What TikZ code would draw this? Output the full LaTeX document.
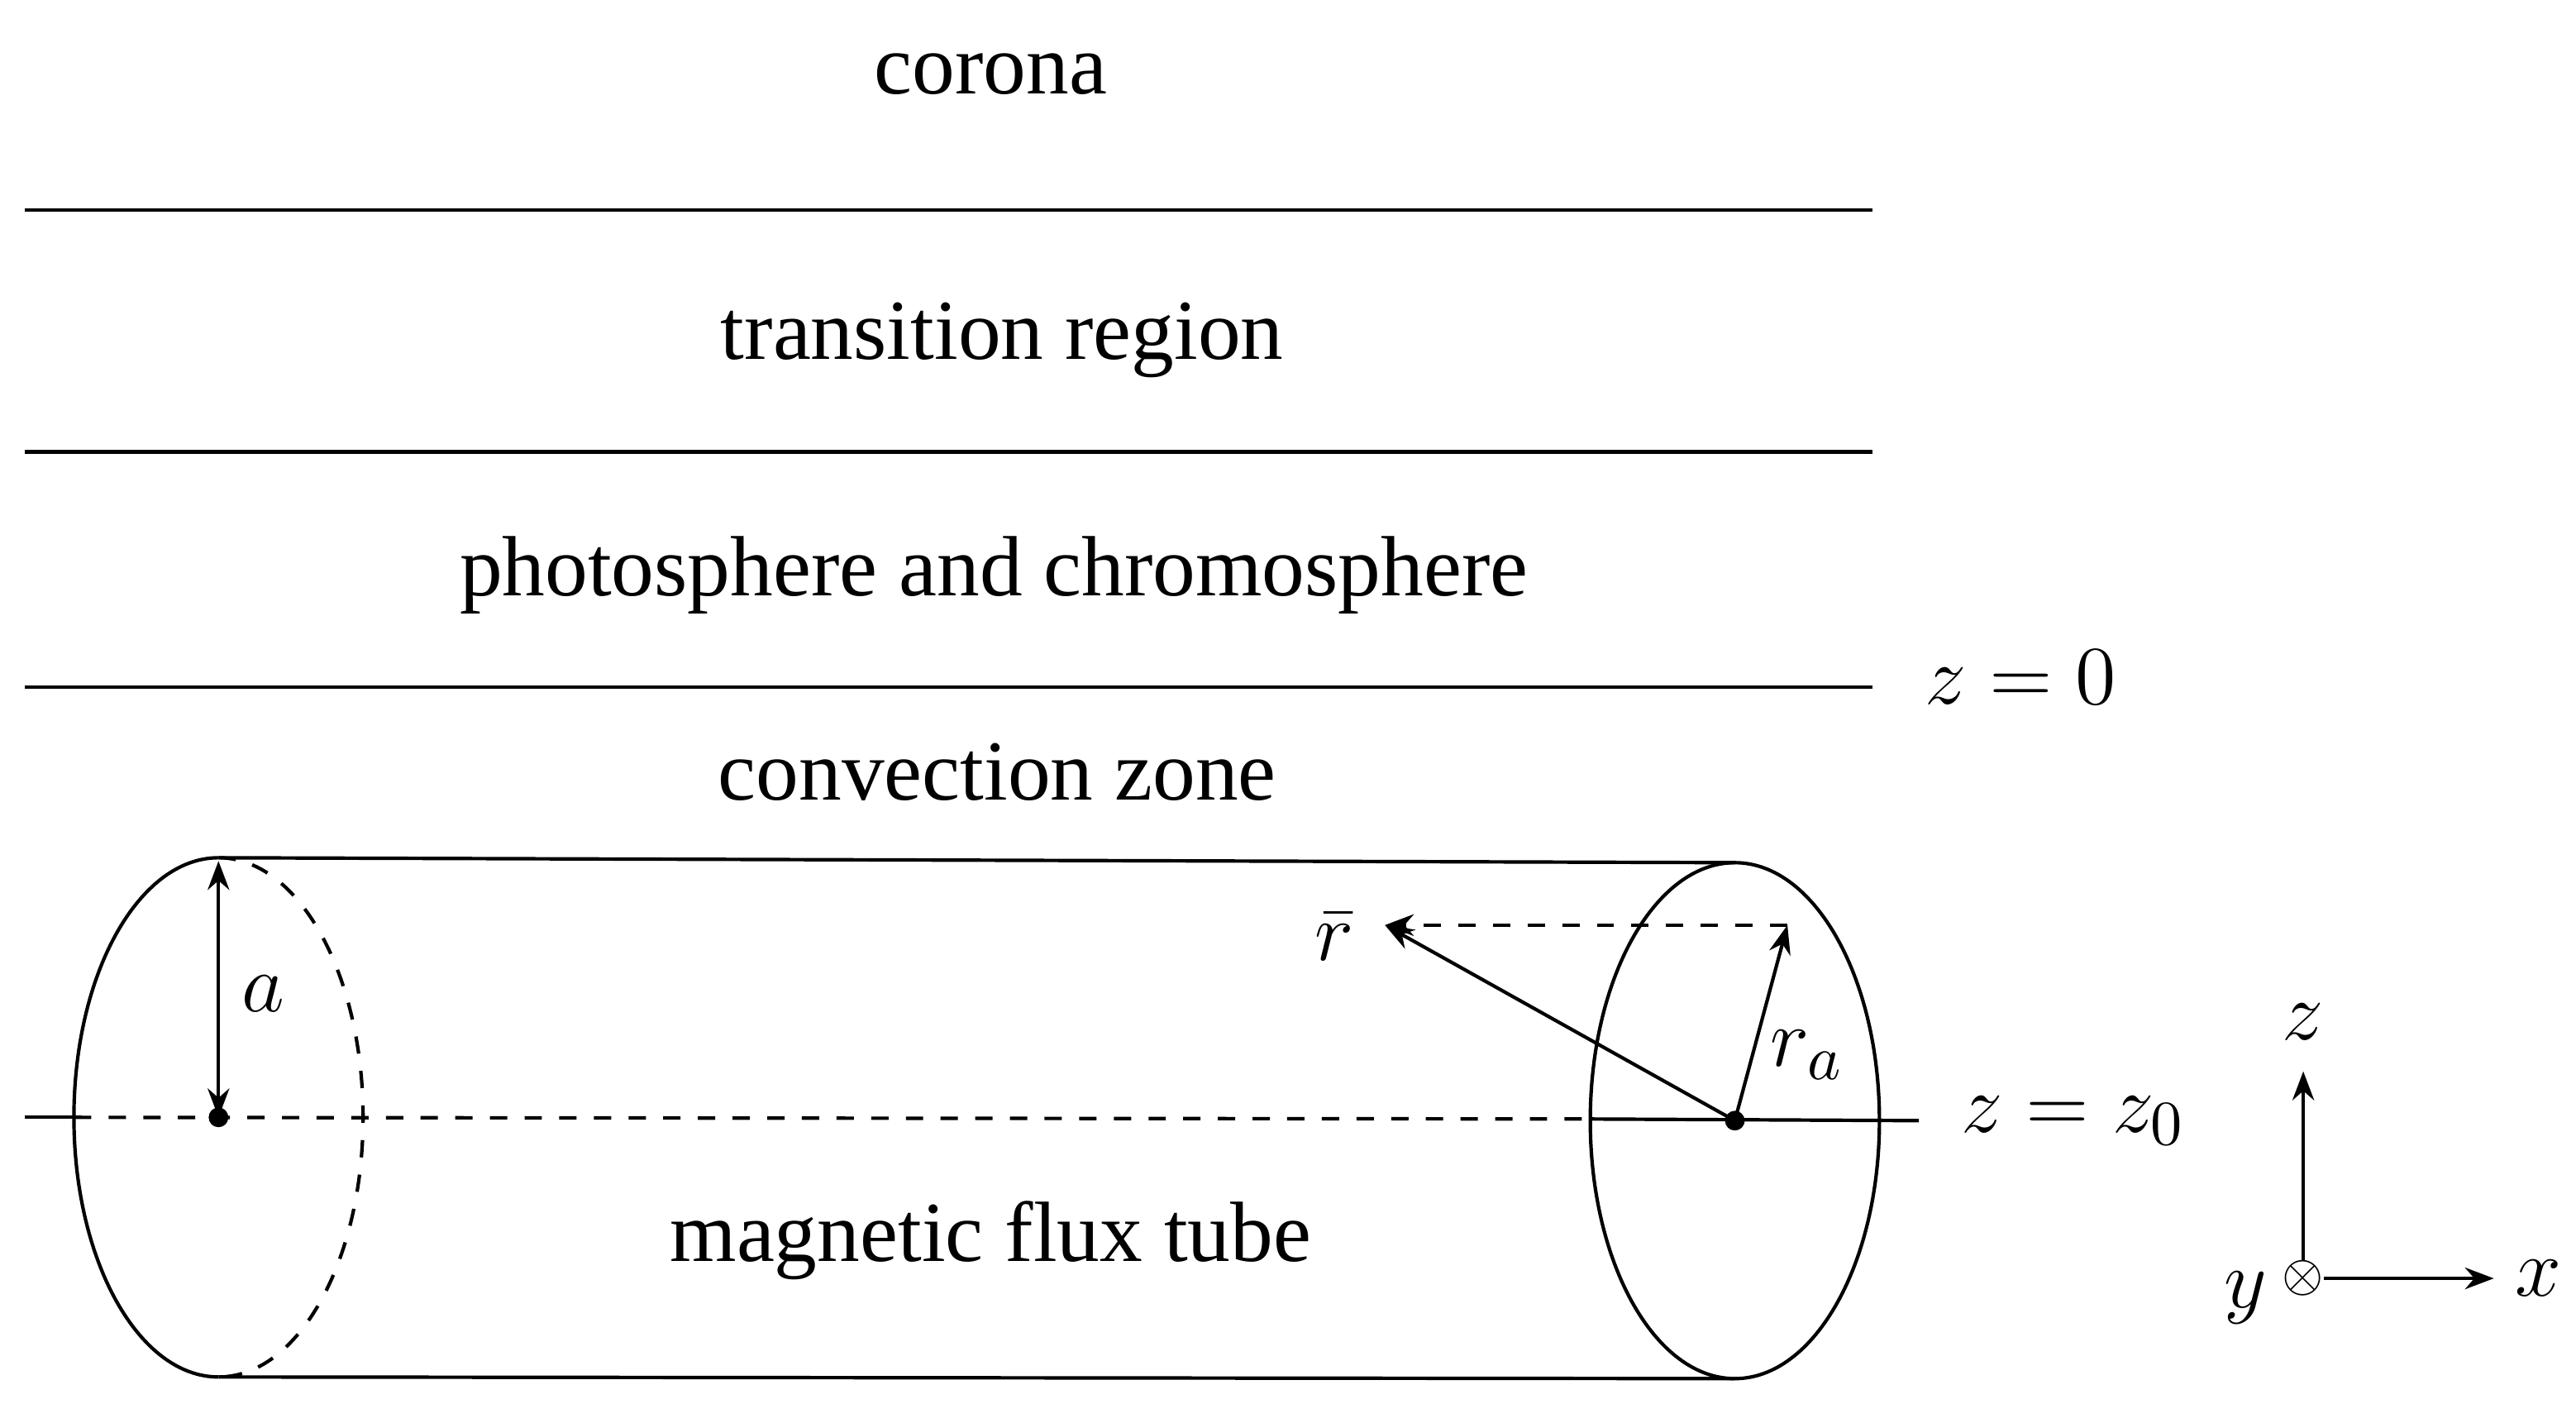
\documentclass[tikz,border=0pt]{standalone}
\usepackage{fontspec}
\setmainfont{Liberation Serif}
\usetikzlibrary{arrows.meta}
\begin{document}
\begin{tikzpicture}[x=0.01cm,y=-0.01cm,
  lbl/.style={font=\fontsize{14.8}{17}\selectfont},
  mlbl/.style={font=\fontsize{15}{17}\selectfont},
  ln/.style={line width=0.6pt},
  arr/.style={ln,-{Stealth[length=5pt]}}]
\useasboundingbox (0,0) rectangle (1568,854);
% layers
\coordinate (l1a) at (15,128); \coordinate (l1b) at (1140,128);
\coordinate (l2a) at (15,275); \coordinate (l2b) at (1140,275);
\coordinate (l3a) at (15,418); \coordinate (l3b) at (1140,418);
\draw[ln] (l1a)--(l1b); \draw[ln] (l2a)--(l2b); \draw[ln] (l3a)--(l3b);
\node[lbl] (corona) at (603,45) {corona};
\node[lbl] (tr) at (610,207) {transition region};
\node[lbl] (ph) at (605,350) {photosphere and chromosphere};
\node[lbl] (cz) at (607,470) {convection zone};
\node[mlbl] (z0) at (1230,412) {$z=0$};
% cylinder
\coordinate (L) at (133,680); \coordinate (R) at (1056,682);
\draw[ln] (133,522) arc[start angle=-90,end angle=-270,x radius=88,y radius=158];
\draw[ln,dashed] (133,522) arc[start angle=-90,end angle=90,x radius=88,y radius=158];
\draw[ln] (R) ellipse[x radius=88,y radius=157];
\draw[ln] (133,522)--(1056,525);
\draw[ln] (133,838)--(1056,839);
% axis
\draw[ln] (15,680)--(45,680);
\draw[ln,dashed] (45,680)--(968,681);
\draw[ln] (968,681)--(1168,682);
\fill (L) circle[radius=6]; \fill (R) circle[radius=6];
\draw[ln,{Stealth[length=5pt]}-{Stealth[length=5pt]}] (133,524)--(L);
\node[mlbl] (a) at (160,605) {$a$};
\coordinate (P) at (1088,563); \coordinate (Q) at (843,563);
\draw[arr] (R)--(P);
\draw[ln,dashed,-{Stealth[length=5pt]}] (P)--(Q);
\draw[arr] (R)--(Q);
\node[mlbl] (rbar) at (812,570) {$\bar{r}$};
\node[mlbl] (ra) at (1100,642) {$r_a$};
\node[mlbl] (zz0) at (1262,682) {$z=z_0$};
\node[lbl] (mft) at (603,755) {magnetic flux tube};
% axes
\coordinate (O) at (1402,778);
\coordinate (Zt) at (1402,652); \coordinate (Xt) at (1518,778);
\draw[arr] (O)--(Zt); \draw[arr] (O)--(Xt);
\node[fill=white,inner sep=0pt,font=\small] (oy) at (O) {$\otimes$};
\node[mlbl] (zl) at (1402,622) {$z$};
\node[mlbl] (xl) at (1545,778) {$x$};
\node[mlbl] (yl) at (1367,790) {$y$};
\end{tikzpicture}
\end{document}
